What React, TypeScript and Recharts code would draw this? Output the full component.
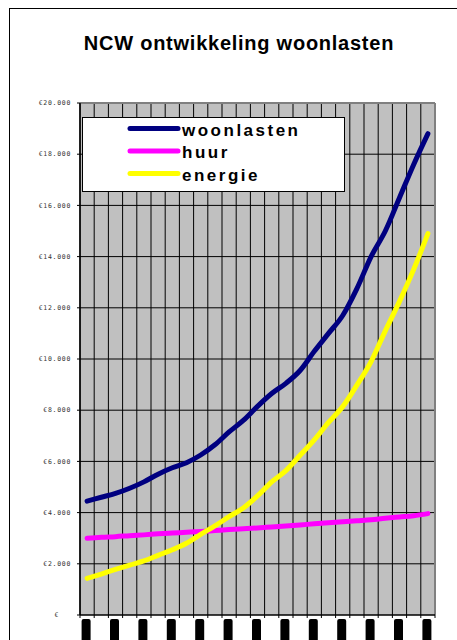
import React from 'react';
import { ComposedChart, Line, XAxis, YAxis, CartesianGrid, Legend } from 'recharts';

const years = ['2008','2009','2010','2011','2012','2013','2014','2015','2016','2017','2018','2019','2020','2021','2022','2023','2024','2025','2026','2027','2028','2029','2030','2031','2032'];
const woonlasten = [4450, 4600, 4750, 4950, 5200, 5500, 5750, 5950, 6250, 6650, 7150, 7600, 8150, 8650, 9050, 9550, 10300, 11000, 11700, 12750, 14000, 15000, 16300, 17600, 18800];
const huur = [3000, 3040, 3060, 3100, 3130, 3170, 3200, 3230, 3260, 3300, 3340, 3370, 3400, 3440, 3480, 3520, 3560, 3600, 3640, 3680, 3720, 3780, 3830, 3880, 3960];
const energie = [1430, 1600, 1780, 1950, 2110, 2330, 2550, 2800, 3150, 3480, 3840, 4180, 4650, 5200, 5640, 6240, 6840, 7520, 8140, 8980, 9900, 11100, 12250, 13500, 14900];
const yTicks = [0, 2000, 4000, 6000, 8000, 10000, 12000, 14000, 16000, 18000, 20000];
const yMax = 20000;
const seriesOrder = ['woonlasten', 'huur', 'energie'];

const data = years.map((y, i) => ({ year: y, woonlasten: woonlasten[i], huur: huur[i], energie: energie[i] }));

const fmt = (v: number) => (v === 0 ? '€' : '€' + v / 1000 + '.000');

const PLOT_W = 355;
const HALF = PLOT_W / (2 * years.length);

const YTick = (props: any) => {
  const { x, y, payload } = props;
  const v = payload.value;
  return (
    <text x={v === 0 ? x - 16 : x - 4} y={y} dy={2.2} textAnchor="end" fontSize={6.5}
      fontFamily="'DejaVu Sans Mono', monospace" letterSpacing={0.7} fill="#333">
      {fmt(v)}
    </text>
  );
};

const XTick = (props: any) => {
  const { x, y } = props;
  return (
    <g>
      <line x1={x - HALF} x2={x - HALF} y1={y} y2={y + 3} stroke="#000" />
      <line x1={x + HALF} x2={x + HALF} y1={y} y2={y + 3} stroke="#000" />
      <rect x={x - 5.5} y={y + 4} width={9} height={24} rx={2} fill="#000" />
    </g>
  );
};

const LegendBox = (props: any) => {
  const payload = (props.payload || []).slice().sort(
    (a: any, b: any) => seriesOrder.indexOf(a.value) - seriesOrder.indexOf(b.value));
  return (
    <div style={{ width: 263, height: 75, border: '1px solid #000', background: '#fff', boxSizing: 'border-box' }}>
      <svg width={261} height={73} style={{ display: 'block' }}>
        {payload.map((p: any, i: number) => {
          const cy = 10.5 + i * 22.5;
          return (
            <g key={i}>
              <line x1={47} x2={95} y1={cy} y2={cy} stroke={p.color} strokeWidth={5} strokeLinecap="round" />
              <text x={99} y={cy + 7.3} fontFamily="'Liberation Sans', Arial, sans-serif" fontWeight="bold"
                fontSize={17} letterSpacing={2.5} fill="#000">{p.value}</text>
            </g>
          );
        })}
      </svg>
    </div>
  );
};

const dims = (p: any) => {
  const off = p.offset || {};
  return { left: off.left ?? 80, top: off.top ?? 103, w: off.width ?? PLOT_W, h: off.height ?? 512 };
};

const gridX = (p: any) => {
  const { left, w } = dims(p);
  const n = years.length;
  return years.map((_, i) => left + (w * i) / n);
};

const gridY = (p: any) => {
  const { top, h } = dims(p);
  return yTicks.slice(1, -1).map((t) => top + h * (1 - t / yMax));
};

const borderX = (p: any) => {
  const { left, w } = dims(p);
  return [left + w];
};

const borderY = (p: any) => {
  const { top } = dims(p);
  return [top];
};

export default function App() {
  return (
    <div style={{ position: 'absolute', left: 0, top: 0, width: 457, height: 640, overflow: 'hidden', background: '#fff' }}>
      <div style={{ position: 'absolute', left: 9, top: 8, width: 470, height: 660, borderLeft: '1px solid #000', borderTop: '1px solid #000' }} />
      <div style={{ position: 'absolute', left: 0, top: 33, width: 478, textAlign: 'center', fontFamily: "'Liberation Sans', Arial, sans-serif", fontWeight: 'bold', fontSize: 20, lineHeight: '20px', letterSpacing: 0.75, color: '#000' }}>
        NCW ontwikkeling woonlasten
      </div>
      <div style={{ position: 'absolute', left: 0, top: 0 }}>
        <ComposedChart width={457} height={640} data={data} margin={{ top: 103, right: 22, bottom: 0, left: 10 }}>
          <CartesianGrid stroke="#000" strokeWidth={1} fill="#C0C0C0" fillOpacity={1} syncWithTicks={false}
            verticalCoordinatesGenerator={gridX} horizontalCoordinatesGenerator={gridY} />
          <CartesianGrid stroke="#808080" strokeWidth={2} fill="none" syncWithTicks={false}
            verticalCoordinatesGenerator={borderX} horizontalCoordinatesGenerator={borderY} />
          <XAxis dataKey="year" interval={1} tickLine={false} tickSize={0} tickMargin={0} height={25}
            padding={{ left: HALF, right: HALF }}
            axisLine={{ stroke: '#000', strokeWidth: 1.5 }} tick={<XTick />} />
          <YAxis domain={[0, yMax]} ticks={yTicks} width={70} tickSize={3} tickMargin={2}
            axisLine={{ stroke: '#000', strokeWidth: 1.5 }} tickLine={{ stroke: '#000' }} tick={<YTick />} interval={0} />
          <Legend layout="vertical" align="center" verticalAlign="middle"
            wrapperStyle={{ left: 82, top: 117, width: 263, height: 75 }} content={<LegendBox />} />
          <Line type="monotone" dataKey="woonlasten" stroke="#000080" strokeWidth={5} dot={false} isAnimationActive={false} strokeLinecap="round" />
          <Line type="monotone" dataKey="huur" stroke="#FF00FF" strokeWidth={5} dot={false} isAnimationActive={false} strokeLinecap="round" />
          <Line type="monotone" dataKey="energie" stroke="#FFFF00" strokeWidth={5} dot={false} isAnimationActive={false} strokeLinecap="round" />
        </ComposedChart>
      </div>
    </div>
  );
}
